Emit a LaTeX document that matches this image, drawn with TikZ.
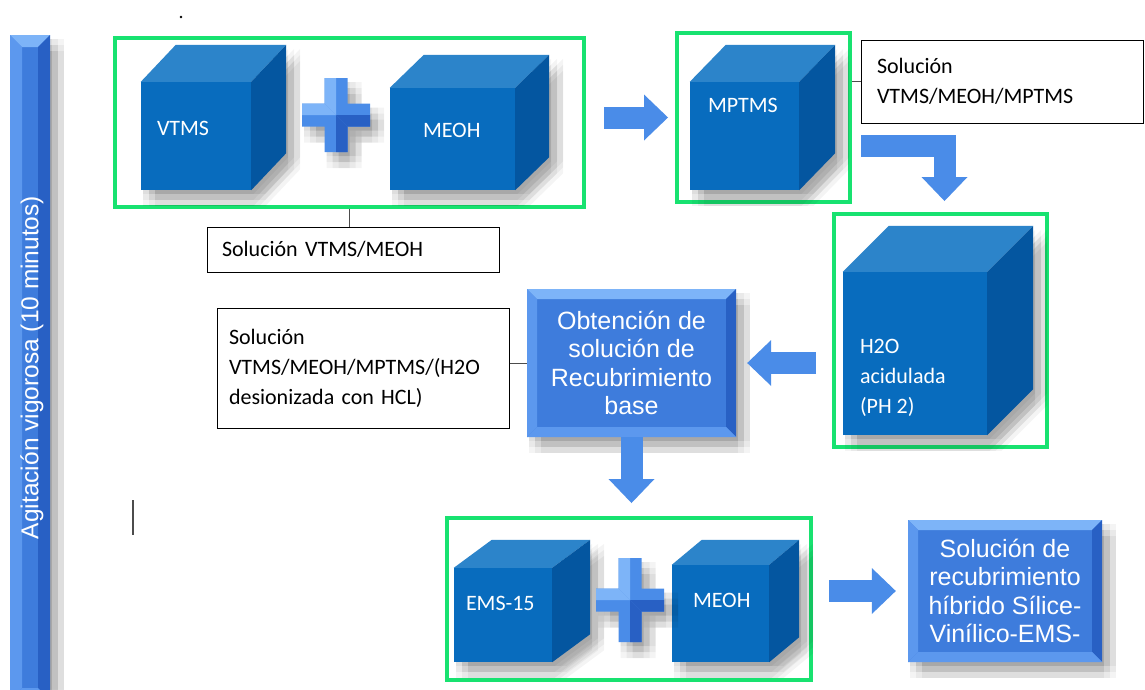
\documentclass[tikz,border=0pt]{standalone}
\usepackage{fontspec}
\setmainfont{Carlito}
\newfontfamily\arialfont{Liberation Sans}
\usetikzlibrary{arrows.meta,calc,positioning,shadows}

\definecolor{grpgreen}{RGB}{24,226,112}
\definecolor{cubefront}{RGB}{8,108,190}
\definecolor{cubetop}{RGB}{44,132,202}
\definecolor{cubeside}{RGB}{4,86,160}
\definecolor{flowblue}{RGB}{62,124,220}
\definecolor{flowlight}{RGB}{125,180,248}
\definecolor{flowmid}{RGB}{92,152,238}
\definecolor{flowdark}{RGB}{40,96,196}
\definecolor{arrowblue}{RGB}{74,140,232}

% top and right faces of a cube whose front face is the node #1
\newcommand{\cubefaces}[3]{%
  \fill[cubetop] (#1.north west) -- ++(#2,-#3) -- ($(#1.north east)+(#2,-#3)$) -- (#1.north east) -- cycle;
  \fill[cubeside,softshadow] (#1.north east) -- ++(#2,-#3) -- ($(#1.south east)+(#2,-#3)$) -- (#1.south east) -- cycle;
}

% bevel bands along the border of a node (used as path picture)
\newcommand{\bevelbands}[1]{%
  \path (path picture bounding box.north west) coordinate (bnw)
        (path picture bounding box.north east) coordinate (bne)
        (path picture bounding box.south west) coordinate (bsw)
        (path picture bounding box.south east) coordinate (bse);
  \fill[flowlight] (bnw) -- (bne) -- ([shift={(-#1pt,-#1pt)}]bne) -- ([shift={(#1pt,-#1pt)}]bnw) -- cycle;
  \fill[flowmid] (bnw) -- ([shift={(#1pt,-#1pt)}]bnw) -- ([shift={(#1pt,#1pt)}]bsw) -- (bsw) -- cycle;
  \fill[flowdark] (bne) -- ([shift={(-#1pt,-#1pt)}]bne) -- ([shift={(-#1pt,#1pt)}]bse) -- (bse) -- cycle;
  \fill[flowmid] (bsw) -- ([shift={(#1pt,#1pt)}]bsw) -- ([shift={(-#1pt,#1pt)}]bse) -- (bse) -- cycle;
}

% plus sign between two cubes
\newcommand{\plussign}[2]{%
  \begin{scope}[shift={(#1)}]
    \fill[fill=arrowblue,softshadow] (-11.5,-#2) -- (11.5,-#2) -- (11.5,-11.5) -- (34,-11.5) -- (34,11.5) -- (11.5,11.5) -- (11.5,#2) -- (-11.5,#2) -- (-11.5,11.5) -- (-34,11.5) -- (-34,-11.5) -- (-11.5,-11.5) -- cycle;
    \fill[flowdark] (0,0) -- (34,0) -- (34,11.5) -- (11.5,11.5) -- cycle;
    \fill[flowdark] (0,0) -- (11.5,11.5) -- (11.5,#2) -- (0,#2) -- cycle;
    \fill[flowlight] (0,0) -- (-34,0) -- (-34,-11.5) -- (-11.5,-11.5) -- cycle;
    \fill[flowlight] (0,0) -- (-11.5,-11.5) -- (-11.5,-#2) -- (0,-#2) -- cycle;
  \end{scope}}

\begin{document}
\begin{tikzpicture}[x=1pt,y=-1pt,
    haze/.style 2 args={general shadow={fill=black,opacity=.045,shadow xshift=#1,shadow yshift=#2}},
    softshadow/.style={haze={2pt}{-4pt},haze={8pt}{-4pt},haze={14pt}{-4pt},
      haze={2pt}{-10pt},haze={8pt}{-10pt},haze={14pt}{-10pt},
      haze={2pt}{-16pt},haze={8pt}{-16pt},haze={14pt}{-16pt}},
    bevelled/.style={path picture={\bevelbands{#1}}},
    grp/.style={draw=grpgreen,line width=4pt,inner sep=0pt},
    cube/.style={fill=cubefront,inner sep=0pt,softshadow},
    cubetext/.style={text=white,font=\fontsize{22}{30}\selectfont,anchor=west,align=left,inner sep=0pt},
    notebox/.style={draw=black,line width=1pt,fill=white,align=left,font=\fontsize{22}{30}\selectfont},
    stepbox/.style={fill=flowblue,text=white,align=center,inner sep=0pt,softshadow,bevelled=10,
      font=\arialfont\fontsize{25}{28.5}\selectfont},
    flow/.style={draw=arrowblue,line width=22pt,line join=miter,
      -{Triangle[length=24pt,width=46pt,line width=0pt]}},
    link/.style={draw=black!70,line width=0.8pt}]
  \useasboundingbox (0,0) rectangle (1145,689);
  \fill[white] (0,0) rectangle (1145,689);

  % side bar
  \node[fill=flowblue,softshadow,bevelled=12,inner sep=0pt,minimum width=40pt,minimum height=665pt] (bar) at (30,367.5) {};
  \node[text=white,font=\arialfont\fontsize{24.5}{28}\selectfont,inner sep=0pt,rotate=90] (bartxt) at ([xshift=2pt]bar) {Agitación vigorosa (10 minutos)};

  % green groups
  \node[grp,minimum width=469pt,minimum height=169pt] (grpA) at (349.5,122.5) {};
  \node[grp,minimum width=173pt,minimum height=169pt] (grpB) at (763.5,117.5) {};
  \node[grp,minimum width=213pt,minimum height=233pt] (grpC) at (940.5,330.5) {};
  \node[grp,minimum width=364pt,minimum height=162pt] (grpD) at (629,599) {};

  % cubes
  \node[cube,minimum width=110pt,minimum height=108pt] (vtms) at (196,136) {};
  \cubefaces{vtms}{35}{37}
  \node[cubetext] (vtmstxt) at ([xshift=16pt,yshift=8pt]vtms.west) {VTMS};

  \node[cube,minimum width=125pt,minimum height=102pt] (meohA) at (452.5,139) {};
  \cubefaces{meohA}{34}{33}
  \node[cubetext] (meohAtxt) at ([xshift=33pt,yshift=9pt]meohA.west) {MEOH};

  \node[cube,minimum width=109pt,minimum height=108pt] (mptms) at (744.5,136) {};
  \cubefaces{mptms}{36}{37}
  \node[cubetext] (mptmstxt) at ([xshift=18pt,yshift=31pt]mptms.west) {MPTMS};

  \node[cube,minimum width=144pt,minimum height=163pt] (agua) at (915,353.5) {};
  \cubefaces{agua}{46}{46}
  \node[cubetext] (aguatxt) at ([xshift=17pt,yshift=-24pt]agua.west) {H2O\\acidulada\\(PH 2)};

  \node[cube,minimum width=98pt,minimum height=94pt] (ems) at (503,615) {};
  \cubefaces{ems}{38}{28}
  \node[cubetext] (emstxt) at ([xshift=12pt,yshift=12pt]ems.west) {EMS-15};

  \node[cube,minimum width=97pt,minimum height=97pt] (meohB) at (720.5,613.5) {};
  \cubefaces{meohB}{30}{25}
  \node[cubetext] (meohBtxt) at ([xshift=21pt,yshift=13pt]meohB.west) {MEOH};

  \coordinate (plusA) at (336,115);
  \plussign{plusA}{37}
  \coordinate (plusB) at (630,600);
  \plussign{plusB}{42}

  % notes
  \node[notebox,text width=262pt,inner xsep=15pt,minimum height=45pt] (noteA) at (353,249.5) {Solución VTMS/MEOH};
  \node[notebox,text width=250pt,inner xsep=16pt,minimum height=83pt] (noteB) at (1002,81.5) {Solución\\VTMS/MEOH/MPTMS};
  \node[notebox,text width=268pt,inner xsep=12pt,minimum height=120pt] (noteC) at (363,368) {Solución\\VTMS/MEOH/MPTMS/(H2O\\desionizada con HCL)};

  % process steps
  \node[stepbox,minimum width=209pt,minimum height=148pt] (obt) at (631.5,363) {Obtención de\\solución de\\Recubrimiento\\base};
  \node[stepbox,minimum width=194pt,minimum height=142pt] (sol) at (1005,591) {Solución de\\recubrimiento\\híbrido Sílice-\\Vinílico-EMS-};

  \draw[link] (grpA.south) -- (grpA.south |- noteA.north);
  \draw[link] (grpB.east |- noteB.west) -- (noteB.west);
  \draw[link] (noteC.east |- obt.west) -- (obt.west);

  % flow arrows
  \coordinate (bend) at (861,146);
  \draw[flow,shorten <=18pt,shorten >=7pt] (grpA.east |- grpB.west) -- (grpB.west);
  \draw[flow,shorten >=11pt] (bend) -| ([xshift=4pt]grpC.north);
  \draw[flow,shorten <=16pt,shorten >=11pt] (grpC.west |- obt.east) -- (obt.east);
  \draw[flow,shorten >=13pt] (obt.south) -- (obt.south |- grpD.north);
  \draw[flow,shorten <=16pt,shorten >=12pt] (grpD.east |- sol.west) -- (sol.west);

  % small marks
  \fill (181,17) circle (1.3);
  \draw[line width=1.2pt,black!70] (133,500) -- (133,535);
\end{tikzpicture}
\end{document}
